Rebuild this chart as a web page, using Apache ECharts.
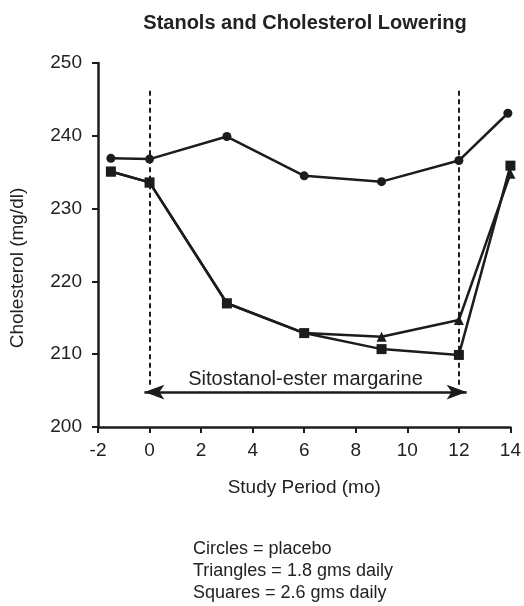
<!DOCTYPE html>
<html>
<head>
<meta charset="utf-8">
<title>Stanols and Cholesterol Lowering</title>
<script src="https://cdn.jsdelivr.net/npm/echarts@6/dist/echarts.min.js"></script>
<style>
  html, body { margin: 0; padding: 0; background: #ffffff; }
  #chart { width: 524px; height: 606px; }
</style>
</head>
<body>
<div id="chart"></div>
<script>
// Study months and total cholesterol (mg/dl) for each group
const placeboMonths = [-1.5, 0, 3, 6, 9, 12, 13.9];
const placebo = [236.9, 236.8, 239.9, 234.5, 233.7, 236.6, 243.1];

const doseMonths = [-1.5, 0, 3, 6, 9, 12, 14];
const dose18 = [235.1, 233.6, 217.0, 212.9, 212.4, 214.7, 234.8];
const dose26 = [235.1, 233.6, 217.0, 212.9, 210.7, 209.9, 235.9];

// Axis ticks
const xTicks = { min: -2, max: 14, step: 2 };
const yTicks = { min: 200, max: 250, step: 10 };

// Margarine period
const treatment = { start: 0, end: 12, label: 'Sitostanol-ester margarine' };
const dashTop = 246.2;
const dashBottom = 205.6;
const arrowLevel = 204.8;
const arrowSpan = [-0.2, 12.3];

const legendLines = [
  'Circles = placebo',
  'Triangles = 1.8 gms daily',
  'Squares = 2.6 gms daily'
];

const ink = '#1c1c1c';
const textInk = '#222222';
const font = '"Liberation Sans", Arial, Helvetica, sans-serif';

function pairs(xs, ys) { return xs.map((x, i) => [x, ys[i]]); }

const chart = echarts.init(document.getElementById('chart'), null, { renderer: 'canvas' });

const axisCommon = {
  type: 'value',
  axisLine: { show: true, onZero: false, lineStyle: { color: ink, width: 2.5 } },
  axisTick: { show: true, inside: false, length: 6, lineStyle: { color: ink, width: 2 } },
  splitLine: { show: false },
  axisLabel: { color: textInk, fontSize: 19, fontFamily: font }
};

const option = {
  animation: false,
  backgroundColor: '#ffffff',
  title: {
    text: 'Stanols and Cholesterol Lowering',
    left: 300,
    textAlign: 'center',
    top: 8,
    textStyle: { color: textInk, fontSize: 20, fontWeight: 'bold', fontFamily: font }
  },
  grid: { left: 98, right: 9, top: 63, bottom: 179, containLabel: false },
  xAxis: Object.assign({}, axisCommon, {
    min: xTicks.min, max: xTicks.max, interval: xTicks.step,
    axisLabel: Object.assign({}, axisCommon.axisLabel, { margin: 14 }),
    name: 'Study Period (mo)',
    nameLocation: 'middle',
    nameGap: 51,
    nameTextStyle: { color: textInk, fontSize: 19, fontFamily: font }
  }),
  yAxis: Object.assign({}, axisCommon, {
    min: yTicks.min, max: yTicks.max, interval: yTicks.step,
    axisLabel: Object.assign({}, axisCommon.axisLabel, { margin: 16 })
  }),
  graphic: [
    {
      type: 'text', x: 18, y: 268, rotation: Math.PI / 2,
      style: { text: 'Cholesterol (mg/dl)', fill: textInk, font: '19px ' + font,
               textAlign: 'center', textVerticalAlign: 'middle' }
    }
  ].concat(legendLines.map((t, i) => ({
    type: 'text', x: 193, y: 549 + i * 22,
    style: { text: t, fill: textInk, font: '18px ' + font, textAlign: 'left', textVerticalAlign: 'middle' }
  }))),
  series: [
    {
      name: 'Placebo',
      type: 'line',
      data: pairs(placeboMonths, placebo),
      symbol: 'circle', symbolSize: 9,
      lineStyle: { color: ink, width: 2.5 },
      itemStyle: { color: ink },
      z: 3,
      markLine: {
        silent: true,
        symbol: 'none',
        label: { show: false },
        lineStyle: { color: ink, width: 2, type: [5, 3.5] },
        data: [
          [{ coord: [treatment.start, dashTop] }, { coord: [treatment.start, dashBottom] }],
          [{ coord: [treatment.end, dashTop] }, { coord: [treatment.end, dashBottom] }]
        ]
      }
    },
    {
      name: '1.8 gms daily',
      type: 'line',
      data: pairs(doseMonths, dose18),
      symbol: 'triangle', symbolSize: 10,
      lineStyle: { color: ink, width: 2.5 },
      itemStyle: { color: ink },
      z: 3,
      markLine: {
        silent: true,
        symbol: ['arrow', 'arrow'],
        symbolSize: [11, 20],
        lineStyle: { color: ink, width: 2.5, type: 'solid' },
        label: {
          show: true, position: 'middle', formatter: treatment.label,
          color: textInk, fontSize: 20, fontFamily: font, distance: 3
        },
        data: [
          [{ coord: [arrowSpan[0], arrowLevel] }, { coord: [arrowSpan[1], arrowLevel] }]
        ]
      }
    },
    {
      name: '2.6 gms daily',
      type: 'line',
      data: pairs(doseMonths, dose26),
      symbol: 'rect', symbolSize: 10,
      lineStyle: { color: ink, width: 2.5 },
      itemStyle: { color: ink },
      z: 4
    }
  ]
};

chart.setOption(option);
</script>
</body>
</html>
